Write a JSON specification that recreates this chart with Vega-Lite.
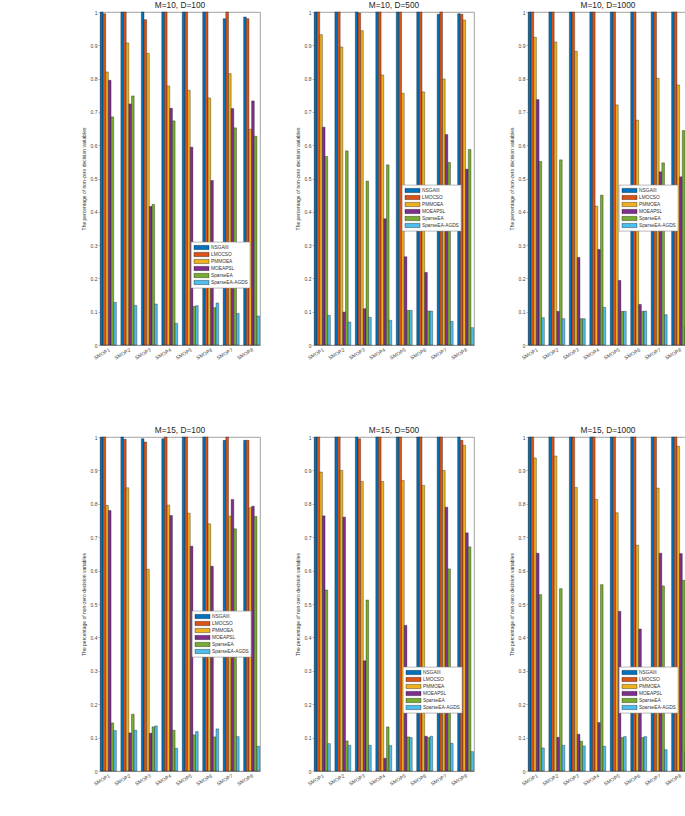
{
  "$schema": "https://vega.github.io/schema/vega-lite/v6.json",
  "padding": {"left": 80, "top": 0, "right": 0, "bottom": 0},
  "background": "white",
  "config": {
    "font": "Liberation Sans",
    "view": {"stroke": "#8a8a8a", "strokeWidth": 0.8},
    "title": {"fontSize": 8.3, "fontWeight": "normal", "color": "#262626", "offset": 1},
    "axis": {"grid": false, "domainColor": "#8a8a8a", "domainWidth": 0.8, "tickColor": "#8a8a8a", "tickWidth": 0.6, "labelColor": "#444", "titleColor": "#333", "labelFont": "Liberation Sans", "titleFont": "Liberation Sans"},
    "legend": {"orient": "none", "title": null, "fillColor": "white", "strokeColor": "#8a8a8a", "strokeWidth": 0.6, "padding": 2, "rowPadding": 0, "labelFontSize": 4.8, "labelColor": "#333", "symbolOffset": 5, "labelOffset": 6, "symbolType": "M-2.3,-0.65H2.3V0.65H-2.3Z", "symbolSize": 42.25, "symbolStrokeColor": "#000", "symbolStrokeWidth": 0.4, "symbolOpacity": 1, "symbolFillOpacity": 1, "labelLimit": 100},
    "bar": {"stroke": "#111", "strokeWidth": 0.35}
  },
  "datasets": {
    "p1": [
      {"problem":"SMOP1","algorithm":"NSGAIII","value":1},{"problem":"SMOP1","algorithm":"LMOCSO","value":0.995},{"problem":"SMOP1","algorithm":"PMMOEA","value":0.82},{"problem":"SMOP1","algorithm":"MOEAPSL","value":0.795},{"problem":"SMOP1","algorithm":"SparseEA","value":0.685},{"problem":"SMOP1","algorithm":"SparseEA-AGDS","value":0.128},
      {"problem":"SMOP2","algorithm":"NSGAIII","value":1},{"problem":"SMOP2","algorithm":"LMOCSO","value":1},{"problem":"SMOP2","algorithm":"PMMOEA","value":0.907},{"problem":"SMOP2","algorithm":"MOEAPSL","value":0.724},{"problem":"SMOP2","algorithm":"SparseEA","value":0.748},{"problem":"SMOP2","algorithm":"SparseEA-AGDS","value":0.119},
      {"problem":"SMOP3","algorithm":"NSGAIII","value":1},{"problem":"SMOP3","algorithm":"LMOCSO","value":0.977},{"problem":"SMOP3","algorithm":"PMMOEA","value":0.876},{"problem":"SMOP3","algorithm":"MOEAPSL","value":0.416},{"problem":"SMOP3","algorithm":"SparseEA","value":0.422},{"problem":"SMOP3","algorithm":"SparseEA-AGDS","value":0.123},
      {"problem":"SMOP4","algorithm":"NSGAIII","value":1},{"problem":"SMOP4","algorithm":"LMOCSO","value":1},{"problem":"SMOP4","algorithm":"PMMOEA","value":0.778},{"problem":"SMOP4","algorithm":"MOEAPSL","value":0.711},{"problem":"SMOP4","algorithm":"SparseEA","value":0.673},{"problem":"SMOP4","algorithm":"SparseEA-AGDS","value":0.065},
      {"problem":"SMOP5","algorithm":"NSGAIII","value":1},{"problem":"SMOP5","algorithm":"LMOCSO","value":1},{"problem":"SMOP5","algorithm":"PMMOEA","value":0.765},{"problem":"SMOP5","algorithm":"MOEAPSL","value":0.594},{"problem":"SMOP5","algorithm":"SparseEA","value":0.116},{"problem":"SMOP5","algorithm":"SparseEA-AGDS","value":0.118},
      {"problem":"SMOP6","algorithm":"NSGAIII","value":1},{"problem":"SMOP6","algorithm":"LMOCSO","value":1},{"problem":"SMOP6","algorithm":"PMMOEA","value":0.742},{"problem":"SMOP6","algorithm":"MOEAPSL","value":0.494},{"problem":"SMOP6","algorithm":"SparseEA","value":0.112},{"problem":"SMOP6","algorithm":"SparseEA-AGDS","value":0.126},
      {"problem":"SMOP7","algorithm":"NSGAIII","value":0.98},{"problem":"SMOP7","algorithm":"LMOCSO","value":1},{"problem":"SMOP7","algorithm":"PMMOEA","value":0.815},{"problem":"SMOP7","algorithm":"MOEAPSL","value":0.71},{"problem":"SMOP7","algorithm":"SparseEA","value":0.652},{"problem":"SMOP7","algorithm":"SparseEA-AGDS","value":0.095},
      {"problem":"SMOP8","algorithm":"NSGAIII","value":0.985},{"problem":"SMOP8","algorithm":"LMOCSO","value":0.98},{"problem":"SMOP8","algorithm":"PMMOEA","value":0.648},{"problem":"SMOP8","algorithm":"MOEAPSL","value":0.733},{"problem":"SMOP8","algorithm":"SparseEA","value":0.627},{"problem":"SMOP8","algorithm":"SparseEA-AGDS","value":0.087}
    ],
    "p2": [
      {"problem":"SMOP1","algorithm":"NSGAIII","value":1},{"problem":"SMOP1","algorithm":"LMOCSO","value":1},{"problem":"SMOP1","algorithm":"PMMOEA","value":0.932},{"problem":"SMOP1","algorithm":"MOEAPSL","value":0.654},{"problem":"SMOP1","algorithm":"SparseEA","value":0.566},{"problem":"SMOP1","algorithm":"SparseEA-AGDS","value":0.089},
      {"problem":"SMOP2","algorithm":"NSGAIII","value":1},{"problem":"SMOP2","algorithm":"LMOCSO","value":1},{"problem":"SMOP2","algorithm":"PMMOEA","value":0.895},{"problem":"SMOP2","algorithm":"MOEAPSL","value":0.099},{"problem":"SMOP2","algorithm":"SparseEA","value":0.583},{"problem":"SMOP2","algorithm":"SparseEA-AGDS","value":0.069},
      {"problem":"SMOP3","algorithm":"NSGAIII","value":1},{"problem":"SMOP3","algorithm":"LMOCSO","value":0.997},{"problem":"SMOP3","algorithm":"PMMOEA","value":0.944},{"problem":"SMOP3","algorithm":"MOEAPSL","value":0.109},{"problem":"SMOP3","algorithm":"SparseEA","value":0.492},{"problem":"SMOP3","algorithm":"SparseEA-AGDS","value":0.083},
      {"problem":"SMOP4","algorithm":"NSGAIII","value":1},{"problem":"SMOP4","algorithm":"LMOCSO","value":1},{"problem":"SMOP4","algorithm":"PMMOEA","value":0.811},{"problem":"SMOP4","algorithm":"MOEAPSL","value":0.379},{"problem":"SMOP4","algorithm":"SparseEA","value":0.541},{"problem":"SMOP4","algorithm":"SparseEA-AGDS","value":0.074},
      {"problem":"SMOP5","algorithm":"NSGAIII","value":1},{"problem":"SMOP5","algorithm":"LMOCSO","value":1},{"problem":"SMOP5","algorithm":"PMMOEA","value":0.756},{"problem":"SMOP5","algorithm":"MOEAPSL","value":0.265},{"problem":"SMOP5","algorithm":"SparseEA","value":0.104},{"problem":"SMOP5","algorithm":"SparseEA-AGDS","value":0.104},
      {"problem":"SMOP6","algorithm":"NSGAIII","value":1},{"problem":"SMOP6","algorithm":"LMOCSO","value":1},{"problem":"SMOP6","algorithm":"PMMOEA","value":0.76},{"problem":"SMOP6","algorithm":"MOEAPSL","value":0.218},{"problem":"SMOP6","algorithm":"SparseEA","value":0.102},{"problem":"SMOP6","algorithm":"SparseEA-AGDS","value":0.102},
      {"problem":"SMOP7","algorithm":"NSGAIII","value":0.993},{"problem":"SMOP7","algorithm":"LMOCSO","value":1},{"problem":"SMOP7","algorithm":"PMMOEA","value":0.799},{"problem":"SMOP7","algorithm":"MOEAPSL","value":0.632},{"problem":"SMOP7","algorithm":"SparseEA","value":0.548},{"problem":"SMOP7","algorithm":"SparseEA-AGDS","value":0.071},
      {"problem":"SMOP8","algorithm":"NSGAIII","value":0.995},{"problem":"SMOP8","algorithm":"LMOCSO","value":0.993},{"problem":"SMOP8","algorithm":"PMMOEA","value":0.976},{"problem":"SMOP8","algorithm":"MOEAPSL","value":0.528},{"problem":"SMOP8","algorithm":"SparseEA","value":0.587},{"problem":"SMOP8","algorithm":"SparseEA-AGDS","value":0.052}
    ],
    "p3": [
      {"problem":"SMOP1","algorithm":"NSGAIII","value":1},{"problem":"SMOP1","algorithm":"LMOCSO","value":1},{"problem":"SMOP1","algorithm":"PMMOEA","value":0.924},{"problem":"SMOP1","algorithm":"MOEAPSL","value":0.737},{"problem":"SMOP1","algorithm":"SparseEA","value":0.551},{"problem":"SMOP1","algorithm":"SparseEA-AGDS","value":0.082},
      {"problem":"SMOP2","algorithm":"NSGAIII","value":1},{"problem":"SMOP2","algorithm":"LMOCSO","value":1},{"problem":"SMOP2","algorithm":"PMMOEA","value":0.91},{"problem":"SMOP2","algorithm":"MOEAPSL","value":0.101},{"problem":"SMOP2","algorithm":"SparseEA","value":0.556},{"problem":"SMOP2","algorithm":"SparseEA-AGDS","value":0.079},
      {"problem":"SMOP3","algorithm":"NSGAIII","value":1},{"problem":"SMOP3","algorithm":"LMOCSO","value":1},{"problem":"SMOP3","algorithm":"PMMOEA","value":0.882},{"problem":"SMOP3","algorithm":"MOEAPSL","value":0.263},{"problem":"SMOP3","algorithm":"SparseEA","value":0.079},{"problem":"SMOP3","algorithm":"SparseEA-AGDS","value":0.079},
      {"problem":"SMOP4","algorithm":"NSGAIII","value":1},{"problem":"SMOP4","algorithm":"LMOCSO","value":1},{"problem":"SMOP4","algorithm":"PMMOEA","value":0.417},{"problem":"SMOP4","algorithm":"MOEAPSL","value":0.287},{"problem":"SMOP4","algorithm":"SparseEA","value":0.45},{"problem":"SMOP4","algorithm":"SparseEA-AGDS","value":0.113},
      {"problem":"SMOP5","algorithm":"NSGAIII","value":1},{"problem":"SMOP5","algorithm":"LMOCSO","value":1},{"problem":"SMOP5","algorithm":"PMMOEA","value":0.721},{"problem":"SMOP5","algorithm":"MOEAPSL","value":0.194},{"problem":"SMOP5","algorithm":"SparseEA","value":0.101},{"problem":"SMOP5","algorithm":"SparseEA-AGDS","value":0.101},
      {"problem":"SMOP6","algorithm":"NSGAIII","value":1},{"problem":"SMOP6","algorithm":"LMOCSO","value":1},{"problem":"SMOP6","algorithm":"PMMOEA","value":0.675},{"problem":"SMOP6","algorithm":"MOEAPSL","value":0.122},{"problem":"SMOP6","algorithm":"SparseEA","value":0.101},{"problem":"SMOP6","algorithm":"SparseEA-AGDS","value":0.102},
      {"problem":"SMOP7","algorithm":"NSGAIII","value":1},{"problem":"SMOP7","algorithm":"LMOCSO","value":1},{"problem":"SMOP7","algorithm":"PMMOEA","value":0.801},{"problem":"SMOP7","algorithm":"MOEAPSL","value":0.52},{"problem":"SMOP7","algorithm":"SparseEA","value":0.547},{"problem":"SMOP7","algorithm":"SparseEA-AGDS","value":0.091},
      {"problem":"SMOP8","algorithm":"NSGAIII","value":1},{"problem":"SMOP8","algorithm":"LMOCSO","value":1},{"problem":"SMOP8","algorithm":"PMMOEA","value":0.781},{"problem":"SMOP8","algorithm":"MOEAPSL","value":0.505},{"problem":"SMOP8","algorithm":"SparseEA","value":0.644},{"problem":"SMOP8","algorithm":"SparseEA-AGDS","value":0.055}
    ],
    "p4": [
      {"problem":"SMOP1","algorithm":"NSGAIII","value":1},{"problem":"SMOP1","algorithm":"LMOCSO","value":1},{"problem":"SMOP1","algorithm":"PMMOEA","value":0.795},{"problem":"SMOP1","algorithm":"MOEAPSL","value":0.78},{"problem":"SMOP1","algorithm":"SparseEA","value":0.144},{"problem":"SMOP1","algorithm":"SparseEA-AGDS","value":0.121},
      {"problem":"SMOP2","algorithm":"NSGAIII","value":1},{"problem":"SMOP2","algorithm":"LMOCSO","value":0.993},{"problem":"SMOP2","algorithm":"PMMOEA","value":0.848},{"problem":"SMOP2","algorithm":"MOEAPSL","value":0.114},{"problem":"SMOP2","algorithm":"SparseEA","value":0.17},{"problem":"SMOP2","algorithm":"SparseEA-AGDS","value":0.122},
      {"problem":"SMOP3","algorithm":"NSGAIII","value":0.995},{"problem":"SMOP3","algorithm":"LMOCSO","value":0.985},{"problem":"SMOP3","algorithm":"PMMOEA","value":0.604},{"problem":"SMOP3","algorithm":"MOEAPSL","value":0.113},{"problem":"SMOP3","algorithm":"SparseEA","value":0.132},{"problem":"SMOP3","algorithm":"SparseEA-AGDS","value":0.135},
      {"problem":"SMOP4","algorithm":"NSGAIII","value":0.995},{"problem":"SMOP4","algorithm":"LMOCSO","value":1},{"problem":"SMOP4","algorithm":"PMMOEA","value":0.796},{"problem":"SMOP4","algorithm":"MOEAPSL","value":0.765},{"problem":"SMOP4","algorithm":"SparseEA","value":0.122},{"problem":"SMOP4","algorithm":"SparseEA-AGDS","value":0.068},
      {"problem":"SMOP5","algorithm":"NSGAIII","value":1},{"problem":"SMOP5","algorithm":"LMOCSO","value":1},{"problem":"SMOP5","algorithm":"PMMOEA","value":0.772},{"problem":"SMOP5","algorithm":"MOEAPSL","value":0.673},{"problem":"SMOP5","algorithm":"SparseEA","value":0.108},{"problem":"SMOP5","algorithm":"SparseEA-AGDS","value":0.118},
      {"problem":"SMOP6","algorithm":"NSGAIII","value":1},{"problem":"SMOP6","algorithm":"LMOCSO","value":1},{"problem":"SMOP6","algorithm":"PMMOEA","value":0.74},{"problem":"SMOP6","algorithm":"MOEAPSL","value":0.613},{"problem":"SMOP6","algorithm":"SparseEA","value":0.102},{"problem":"SMOP6","algorithm":"SparseEA-AGDS","value":0.126},
      {"problem":"SMOP7","algorithm":"NSGAIII","value":0.99},{"problem":"SMOP7","algorithm":"LMOCSO","value":1},{"problem":"SMOP7","algorithm":"PMMOEA","value":0.763},{"problem":"SMOP7","algorithm":"MOEAPSL","value":0.813},{"problem":"SMOP7","algorithm":"SparseEA","value":0.725},{"problem":"SMOP7","algorithm":"SparseEA-AGDS","value":0.103},
      {"problem":"SMOP8","algorithm":"NSGAIII","value":0.99},{"problem":"SMOP8","algorithm":"LMOCSO","value":0.99},{"problem":"SMOP8","algorithm":"PMMOEA","value":0.788},{"problem":"SMOP8","algorithm":"MOEAPSL","value":0.793},{"problem":"SMOP8","algorithm":"SparseEA","value":0.762},{"problem":"SMOP8","algorithm":"SparseEA-AGDS","value":0.074}
    ],
    "p5": [
      {"problem":"SMOP1","algorithm":"NSGAIII","value":1},{"problem":"SMOP1","algorithm":"LMOCSO","value":1},{"problem":"SMOP1","algorithm":"PMMOEA","value":0.895},{"problem":"SMOP1","algorithm":"MOEAPSL","value":0.764},{"problem":"SMOP1","algorithm":"SparseEA","value":0.542},{"problem":"SMOP1","algorithm":"SparseEA-AGDS","value":0.082},
      {"problem":"SMOP2","algorithm":"NSGAIII","value":1},{"problem":"SMOP2","algorithm":"LMOCSO","value":1},{"problem":"SMOP2","algorithm":"PMMOEA","value":0.9},{"problem":"SMOP2","algorithm":"MOEAPSL","value":0.76},{"problem":"SMOP2","algorithm":"SparseEA","value":0.09},{"problem":"SMOP2","algorithm":"SparseEA-AGDS","value":0.077},
      {"problem":"SMOP3","algorithm":"NSGAIII","value":1},{"problem":"SMOP3","algorithm":"LMOCSO","value":0.995},{"problem":"SMOP3","algorithm":"PMMOEA","value":0.867},{"problem":"SMOP3","algorithm":"MOEAPSL","value":0.33},{"problem":"SMOP3","algorithm":"SparseEA","value":0.512},{"problem":"SMOP3","algorithm":"SparseEA-AGDS","value":0.077},
      {"problem":"SMOP4","algorithm":"NSGAIII","value":1},{"problem":"SMOP4","algorithm":"LMOCSO","value":1},{"problem":"SMOP4","algorithm":"PMMOEA","value":0.867},{"problem":"SMOP4","algorithm":"MOEAPSL","value":0.038},{"problem":"SMOP4","algorithm":"SparseEA","value":0.132},{"problem":"SMOP4","algorithm":"SparseEA-AGDS","value":0.076},
      {"problem":"SMOP5","algorithm":"NSGAIII","value":1},{"problem":"SMOP5","algorithm":"LMOCSO","value":1},{"problem":"SMOP5","algorithm":"PMMOEA","value":0.87},{"problem":"SMOP5","algorithm":"MOEAPSL","value":0.436},{"problem":"SMOP5","algorithm":"SparseEA","value":0.102},{"problem":"SMOP5","algorithm":"SparseEA-AGDS","value":0.1},
      {"problem":"SMOP6","algorithm":"NSGAIII","value":1},{"problem":"SMOP6","algorithm":"LMOCSO","value":1},{"problem":"SMOP6","algorithm":"PMMOEA","value":0.855},{"problem":"SMOP6","algorithm":"MOEAPSL","value":0.104},{"problem":"SMOP6","algorithm":"SparseEA","value":0.1},{"problem":"SMOP6","algorithm":"SparseEA-AGDS","value":0.104},
      {"problem":"SMOP7","algorithm":"NSGAIII","value":1},{"problem":"SMOP7","algorithm":"LMOCSO","value":1},{"problem":"SMOP7","algorithm":"PMMOEA","value":0.9},{"problem":"SMOP7","algorithm":"MOEAPSL","value":0.79},{"problem":"SMOP7","algorithm":"SparseEA","value":0.605},{"problem":"SMOP7","algorithm":"SparseEA-AGDS","value":0.083},
      {"problem":"SMOP8","algorithm":"NSGAIII","value":1},{"problem":"SMOP8","algorithm":"LMOCSO","value":0.99},{"problem":"SMOP8","algorithm":"PMMOEA","value":0.975},{"problem":"SMOP8","algorithm":"MOEAPSL","value":0.713},{"problem":"SMOP8","algorithm":"SparseEA","value":0.671},{"problem":"SMOP8","algorithm":"SparseEA-AGDS","value":0.058}
    ],
    "p6": [
      {"problem":"SMOP1","algorithm":"NSGAIII","value":1},{"problem":"SMOP1","algorithm":"LMOCSO","value":1},{"problem":"SMOP1","algorithm":"PMMOEA","value":0.937},{"problem":"SMOP1","algorithm":"MOEAPSL","value":0.652},{"problem":"SMOP1","algorithm":"SparseEA","value":0.528},{"problem":"SMOP1","algorithm":"SparseEA-AGDS","value":0.069},
      {"problem":"SMOP2","algorithm":"NSGAIII","value":1},{"problem":"SMOP2","algorithm":"LMOCSO","value":1},{"problem":"SMOP2","algorithm":"PMMOEA","value":0.943},{"problem":"SMOP2","algorithm":"MOEAPSL","value":0.101},{"problem":"SMOP2","algorithm":"SparseEA","value":0.546},{"problem":"SMOP2","algorithm":"SparseEA-AGDS","value":0.077},
      {"problem":"SMOP3","algorithm":"NSGAIII","value":1},{"problem":"SMOP3","algorithm":"LMOCSO","value":1},{"problem":"SMOP3","algorithm":"PMMOEA","value":0.849},{"problem":"SMOP3","algorithm":"MOEAPSL","value":0.11},{"problem":"SMOP3","algorithm":"SparseEA","value":0.089},{"problem":"SMOP3","algorithm":"SparseEA-AGDS","value":0.075},
      {"problem":"SMOP4","algorithm":"NSGAIII","value":1},{"problem":"SMOP4","algorithm":"LMOCSO","value":1},{"problem":"SMOP4","algorithm":"PMMOEA","value":0.813},{"problem":"SMOP4","algorithm":"MOEAPSL","value":0.145},{"problem":"SMOP4","algorithm":"SparseEA","value":0.558},{"problem":"SMOP4","algorithm":"SparseEA-AGDS","value":0.074},
      {"problem":"SMOP5","algorithm":"NSGAIII","value":1},{"problem":"SMOP5","algorithm":"LMOCSO","value":1},{"problem":"SMOP5","algorithm":"PMMOEA","value":0.773},{"problem":"SMOP5","algorithm":"MOEAPSL","value":0.478},{"problem":"SMOP5","algorithm":"SparseEA","value":0.1},{"problem":"SMOP5","algorithm":"SparseEA-AGDS","value":0.103},
      {"problem":"SMOP6","algorithm":"NSGAIII","value":1},{"problem":"SMOP6","algorithm":"LMOCSO","value":1},{"problem":"SMOP6","algorithm":"PMMOEA","value":0.676},{"problem":"SMOP6","algorithm":"MOEAPSL","value":0.425},{"problem":"SMOP6","algorithm":"SparseEA","value":0.1},{"problem":"SMOP6","algorithm":"SparseEA-AGDS","value":0.103},
      {"problem":"SMOP7","algorithm":"NSGAIII","value":1},{"problem":"SMOP7","algorithm":"LMOCSO","value":1},{"problem":"SMOP7","algorithm":"PMMOEA","value":0.847},{"problem":"SMOP7","algorithm":"MOEAPSL","value":0.652},{"problem":"SMOP7","algorithm":"SparseEA","value":0.554},{"problem":"SMOP7","algorithm":"SparseEA-AGDS","value":0.064},
      {"problem":"SMOP8","algorithm":"NSGAIII","value":1},{"problem":"SMOP8","algorithm":"LMOCSO","value":1},{"problem":"SMOP8","algorithm":"PMMOEA","value":0.972},{"problem":"SMOP8","algorithm":"MOEAPSL","value":0.651},{"problem":"SMOP8","algorithm":"SparseEA","value":0.571},{"problem":"SMOP8","algorithm":"SparseEA-AGDS","value":0.058}
    ]
  },
  "columns": 3,
  "spacing": {"column": 33, "row": 64},
  "resolve": {"scale": {"color": "independent"}, "legend": {"color": "independent"}},
  "concat": [
    {"title": "M=10, D=100", "data": {"name": "p1"}, "width": 160, "height": 333, "mark": "bar",
     "encoding": {
      "x": {"field": "problem", "type": "nominal", "scale": {"paddingInner": 0.22, "paddingOuter": 0.02}, "axis": {"title": null, "labelAngle": -30, "labelFontSize": 5, "ticks": false, "labelPadding": 2}},
      "xOffset": {"field": "algorithm", "sort": ["NSGAIII","LMOCSO","PMMOEA","MOEAPSL","SparseEA","SparseEA-AGDS"]},
      "y": {"field": "value", "type": "quantitative", "scale": {"domain": [0, 1], "nice": false}, "axis": {"title": "The percentage of non-zero decision variables", "titleFontSize": 5, "titleFontWeight": "normal", "titlePadding": 4, "labelFontSize": 5, "format": ".1~f", "tickCount": 10, "tickSize": 2, "labelPadding": 1}},
      "color": {"field": "algorithm", "type": "nominal", "scale": {"domain": ["NSGAIII","LMOCSO","PMMOEA","MOEAPSL","SparseEA","SparseEA-AGDS"], "range": ["#0072BD","#D95319","#EDB120","#7E2F8E","#77AC30","#4DBEEE"]}, "legend": {"legendX": 91, "legendY": 230}}
     }},
    {"title": "M=10, D=500", "data": {"name": "p2"}, "width": 160, "height": 333, "mark": "bar",
     "encoding": {
      "x": {"field": "problem", "type": "nominal", "scale": {"paddingInner": 0.22, "paddingOuter": 0.02}, "axis": {"title": null, "labelAngle": -30, "labelFontSize": 5, "ticks": false, "labelPadding": 2}},
      "xOffset": {"field": "algorithm", "sort": ["NSGAIII","LMOCSO","PMMOEA","MOEAPSL","SparseEA","SparseEA-AGDS"]},
      "y": {"field": "value", "type": "quantitative", "scale": {"domain": [0, 1], "nice": false}, "axis": {"title": "The percentage of non-zero decision variables", "titleFontSize": 5, "titleFontWeight": "normal", "titlePadding": 4, "labelFontSize": 5, "format": ".1~f", "tickCount": 10, "tickSize": 2, "labelPadding": 1}},
      "color": {"field": "algorithm", "type": "nominal", "scale": {"domain": ["NSGAIII","LMOCSO","PMMOEA","MOEAPSL","SparseEA","SparseEA-AGDS"], "range": ["#0072BD","#D95319","#EDB120","#7E2F8E","#77AC30","#4DBEEE"]}, "legend": {"legendX": 88, "legendY": 173}}
     }},
    {"title": "M=10, D=1000", "data": {"name": "p3"}, "width": 160, "height": 333, "mark": "bar",
     "encoding": {
      "x": {"field": "problem", "type": "nominal", "scale": {"paddingInner": 0.22, "paddingOuter": 0.02}, "axis": {"title": null, "labelAngle": -30, "labelFontSize": 5, "ticks": false, "labelPadding": 2}},
      "xOffset": {"field": "algorithm", "sort": ["NSGAIII","LMOCSO","PMMOEA","MOEAPSL","SparseEA","SparseEA-AGDS"]},
      "y": {"field": "value", "type": "quantitative", "scale": {"domain": [0, 1], "nice": false}, "axis": {"title": "The percentage of non-zero decision variables", "titleFontSize": 5, "titleFontWeight": "normal", "titlePadding": 4, "labelFontSize": 5, "format": ".1~f", "tickCount": 10, "tickSize": 2, "labelPadding": 1}},
      "color": {"field": "algorithm", "type": "nominal", "scale": {"domain": ["NSGAIII","LMOCSO","PMMOEA","MOEAPSL","SparseEA","SparseEA-AGDS"], "range": ["#0072BD","#D95319","#EDB120","#7E2F8E","#77AC30","#4DBEEE"]}, "legend": {"legendX": 91, "legendY": 173}}
     }},
    {"title": "M=15, D=100", "data": {"name": "p4"}, "width": 160, "height": 334, "mark": "bar",
     "encoding": {
      "x": {"field": "problem", "type": "nominal", "scale": {"paddingInner": 0.22, "paddingOuter": 0.02}, "axis": {"title": null, "labelAngle": -30, "labelFontSize": 5, "ticks": false, "labelPadding": 2}},
      "xOffset": {"field": "algorithm", "sort": ["NSGAIII","LMOCSO","PMMOEA","MOEAPSL","SparseEA","SparseEA-AGDS"]},
      "y": {"field": "value", "type": "quantitative", "scale": {"domain": [0, 1], "nice": false}, "axis": {"title": "The percentage of non-zero decision variables", "titleFontSize": 5, "titleFontWeight": "normal", "titlePadding": 4, "labelFontSize": 5, "format": ".1~f", "tickCount": 10, "tickSize": 2, "labelPadding": 1}},
      "color": {"field": "algorithm", "type": "nominal", "scale": {"domain": ["NSGAIII","LMOCSO","PMMOEA","MOEAPSL","SparseEA","SparseEA-AGDS"], "range": ["#0072BD","#D95319","#EDB120","#7E2F8E","#77AC30","#4DBEEE"]}, "legend": {"legendX": 92, "legendY": 174}}
     }},
    {"title": "M=15, D=500", "data": {"name": "p5"}, "width": 160, "height": 334, "mark": "bar",
     "encoding": {
      "x": {"field": "problem", "type": "nominal", "scale": {"paddingInner": 0.22, "paddingOuter": 0.02}, "axis": {"title": null, "labelAngle": -30, "labelFontSize": 5, "ticks": false, "labelPadding": 2}},
      "xOffset": {"field": "algorithm", "sort": ["NSGAIII","LMOCSO","PMMOEA","MOEAPSL","SparseEA","SparseEA-AGDS"]},
      "y": {"field": "value", "type": "quantitative", "scale": {"domain": [0, 1], "nice": false}, "axis": {"title": "The percentage of non-zero decision variables", "titleFontSize": 5, "titleFontWeight": "normal", "titlePadding": 4, "labelFontSize": 5, "format": ".1~f", "tickCount": 10, "tickSize": 2, "labelPadding": 1}},
      "color": {"field": "algorithm", "type": "nominal", "scale": {"domain": ["NSGAIII","LMOCSO","PMMOEA","MOEAPSL","SparseEA","SparseEA-AGDS"], "range": ["#0072BD","#D95319","#EDB120","#7E2F8E","#77AC30","#4DBEEE"]}, "legend": {"legendX": 89, "legendY": 230}}
     }},
    {"title": "M=15, D=1000", "data": {"name": "p6"}, "width": 160, "height": 334, "mark": "bar",
     "encoding": {
      "x": {"field": "problem", "type": "nominal", "scale": {"paddingInner": 0.22, "paddingOuter": 0.02}, "axis": {"title": null, "labelAngle": -30, "labelFontSize": 5, "ticks": false, "labelPadding": 2}},
      "xOffset": {"field": "algorithm", "sort": ["NSGAIII","LMOCSO","PMMOEA","MOEAPSL","SparseEA","SparseEA-AGDS"]},
      "y": {"field": "value", "type": "quantitative", "scale": {"domain": [0, 1], "nice": false}, "axis": {"title": "The percentage of non-zero decision variables", "titleFontSize": 5, "titleFontWeight": "normal", "titlePadding": 4, "labelFontSize": 5, "format": ".1~f", "tickCount": 10, "tickSize": 2, "labelPadding": 1}},
      "color": {"field": "algorithm", "type": "nominal", "scale": {"domain": ["NSGAIII","LMOCSO","PMMOEA","MOEAPSL","SparseEA","SparseEA-AGDS"], "range": ["#0072BD","#D95319","#EDB120","#7E2F8E","#77AC30","#4DBEEE"]}, "legend": {"legendX": 91, "legendY": 230}}
     }}
  ]
}
